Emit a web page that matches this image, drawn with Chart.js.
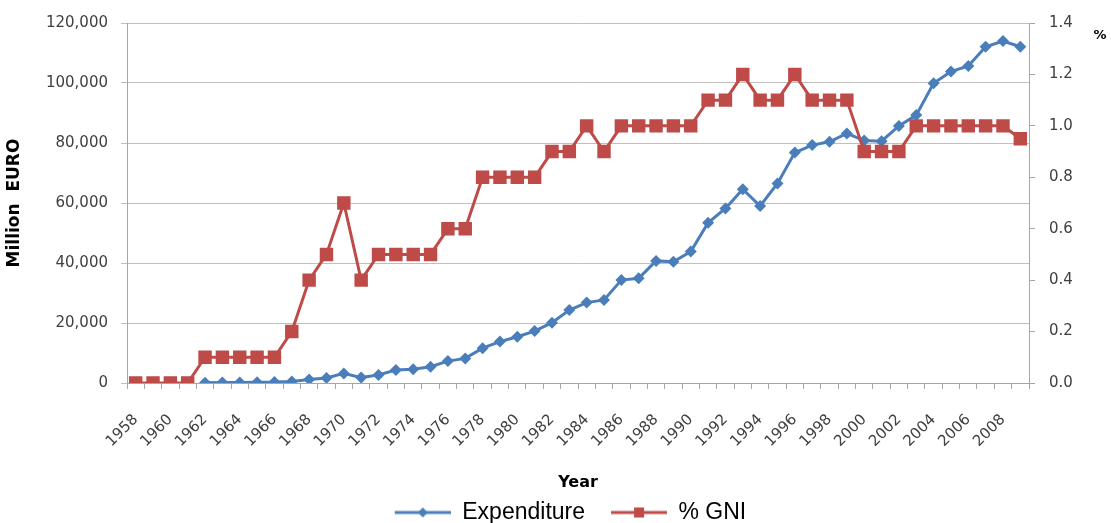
<!DOCTYPE html>
<html>
<head>
<meta charset="utf-8">
<script src="https://cdn.jsdelivr.net/npm/chart.js@4/dist/chart.umd.min.js"></script>
<style>
  html, body { margin: 0; padding: 0; background: #fff; }
  #wrap { width: 1111px; height: 523px; position: relative; }
</style>
</head>
<body>
<div id="wrap"><canvas id="aid"></canvas></div>
<script>
// categories and values
var years = [1958, 1959, 1960, 1961, 1962, 1963, 1964, 1965, 1966, 1967,
  1968, 1969, 1970, 1971, 1972, 1973, 1974, 1975, 1976, 1977,
  1978, 1979, 1980, 1981, 1982, 1983, 1984, 1985, 1986, 1987,
  1988, 1989, 1990, 1991, 1992, 1993, 1994, 1995, 1996, 1997,
  1998, 1999, 2000, 2001, 2002, 2003, 2004, 2005, 2006, 2007,
  2008, 2009];

// million euro
var expenditure = [null, null, null, null, 100, 150, 200, 250, 300, 500,
  1200, 1700, 3200, 1800, 2700, 4300, 4600, 5400, 7300, 8200,
  11600, 13800, 15400, 17300, 20100, 24300, 26800, 27700, 34300, 34900,
  40700, 40400, 43800, 53400, 58200, 64600, 59000, 66500, 76800, 79300,
  80400, 83200, 80800, 80600, 85700, 89300, 99900, 103800, 105700, 112100,
  114000, 112100];

// % of GNI
var gni = [0, 0, 0, 0, 0.1, 0.1, 0.1, 0.1, 0.1, 0.2,
  0.4, 0.5, 0.7, 0.4, 0.5, 0.5, 0.5, 0.5, 0.6, 0.6,
  0.8, 0.8, 0.8, 0.8, 0.9, 0.9, 1.0, 0.9, 1.0, 1.0,
  1.0, 1.0, 1.0, 1.1, 1.1, 1.2, 1.1, 1.1, 1.2, 1.1,
  1.1, 1.1, 0.9, 0.9, 0.9, 1.0, 1.0, 1.0, 1.0, 1.0,
  1.0, 0.95];

var leftTicks = [0, 20000, 40000, 60000, 80000, 100000, 120000];
var rightTicks = [0, 0.2, 0.4, 0.6, 0.8, 1.0, 1.2, 1.4];

var BLUE = '#4a7ebb';
var RED = '#be4b48';
var tickFont = { family: 'DejaVu Sans', size: 15 };
var PLOT_BOTTOM = 383;
var BOTTOM_PAD = -11;   // pulls the legend down to the canvas edge

// legend swatch: blank gap on the left, then a line with the marker in the middle
function swatch(color, shape) {
  var c = document.createElement('canvas');
  c.width = 82; c.height = 16;
  var g = c.getContext('2d');
  var x0 = 26, mid = x0 + 28;
  g.strokeStyle = color;
  g.lineWidth = 3;
  g.beginPath(); g.moveTo(x0, 8); g.lineTo(82, 8); g.stroke();
  g.fillStyle = color;
  if (shape === 'diamond') {
    g.beginPath(); g.moveTo(mid, 3); g.lineTo(mid + 5, 8); g.lineTo(mid, 13); g.lineTo(mid - 5, 8); g.closePath(); g.fill();
  } else {
    g.fillRect(mid - 5, 3, 10, 10);
  }
  return c;
}

// "%" at the top of the right axis
var percentTitle = {
  id: 'percentTitle',
  afterDraw: function(chart) {
    var ctx = chart.ctx;
    ctx.save();
    ctx.font = 'bold 13px "DejaVu Sans"';
    ctx.fillStyle = '#000';
    ctx.textAlign = 'center';
    ctx.textBaseline = 'middle';
    ctx.fillText('%', 1100, 36);
    ctx.restore();
  }
};

Chart.defaults.font.family = 'DejaVu Sans';
Chart.defaults.color = '#404040';

var chart = new Chart('aid', {
  type: 'line',
  data: {
    labels: years,
    datasets: [
      {
        label: 'Expenditure',
        data: expenditure,
        yAxisID: 'y',
        order: 1,
        borderColor: BLUE,
        backgroundColor: BLUE,
        borderWidth: 3,
        pointStyle: 'rectRot',
        pointRadius: 6,
        pointBorderWidth: 0,
        fill: false,
        tension: 0
      },
      {
        label: '% GNI',
        data: gni,
        yAxisID: 'y1',
        order: 0,
        borderColor: RED,
        backgroundColor: RED,
        borderWidth: 3,
        pointStyle: 'rect',
        pointRadius: 9.5,
        pointBorderWidth: 0,
        fill: false,
        tension: 0
      }
    ]
  },
  options: {
    responsive: true,
    maintainAspectRatio: false,
    animation: false,
    layout: { padding: { top: 23, left: 4, right: 0, bottom: BOTTOM_PAD } },
    scales: {
      x: {
        offset: true,
        grid: { display: true, drawOnChartArea: false, offset: true, tickLength: 6, color: '#a6a6a6' },
        border: { color: '#a6a6a6' },
        ticks: {
          autoSkip: false,
          maxRotation: 45,
          minRotation: 45,
          font: tickFont,
          padding: 22,
          callback: function(value, index) {
            return index % 2 === 0 ? years[index] : '';
          }
        },
        title: {
          display: true,
          text: 'Year',
          color: '#000',
          font: { family: 'DejaVu Sans', size: 16, weight: 'bold' },
          padding: { top: 10, bottom: 9 }
        },
        afterFit: function(scale) {
          var lh = scale.chart.legend ? scale.chart.legend.height : 36;
          scale.height = 523 - BOTTOM_PAD - PLOT_BOTTOM - lh;
        }
      },
      y: {
        position: 'left',
        min: 0,
        max: 120000,
        afterBuildTicks: function(scale) {
          scale.ticks = leftTicks.map(function(v) { return { value: v }; });
        },
        grid: { color: '#bfbfbf', tickLength: 6 },
        border: { color: '#a6a6a6' },
        ticks: {
          font: tickFont,
          padding: 13,
          callback: function(value) { return value.toLocaleString('en-US'); }
        },
        title: {
          display: true,
          text: 'Million  EURO',
          color: '#000',
          font: { family: 'DejaVu Sans', size: 17, weight: 'bold' },
          padding: { top: 0, bottom: 0 }
        },
        afterFit: function(scale) { scale.width = 123; }
      },
      y1: {
        position: 'right',
        min: 0,
        max: 1.4,
        afterBuildTicks: function(scale) {
          scale.ticks = rightTicks.map(function(v) { return { value: v }; });
        },
        grid: { drawOnChartArea: false, tickLength: 6, color: '#a6a6a6' },
        border: { color: '#a6a6a6' },
        ticks: {
          font: tickFont,
          padding: 14,
          callback: function(value) { return value.toFixed(1); }
        },
        afterFit: function(scale) { scale.width = 82; }
      }
    },
    plugins: {
      tooltip: { enabled: false },
      legend: {
        position: 'bottom',
        labels: {
          usePointStyle: true,
          pointStyleWidth: 82,
          padding: 0,
          color: '#000',
          font: { family: 'Liberation Sans', size: 23 },
          generateLabels: function(ch) {
            return [
              { text: 'Expenditure', pointStyle: swatch(BLUE, 'diamond'), fillStyle: BLUE, strokeStyle: BLUE, lineWidth: 0, datasetIndex: 0, fontColor: '#000' },
              { text: '% GNI', pointStyle: swatch(RED, 'square'), fillStyle: RED, strokeStyle: RED, lineWidth: 0, datasetIndex: 1, fontColor: '#000' }
            ];
          }
        }
      }
    }
  },
  plugins: [percentTitle]
});
</script>
</body>
</html>
